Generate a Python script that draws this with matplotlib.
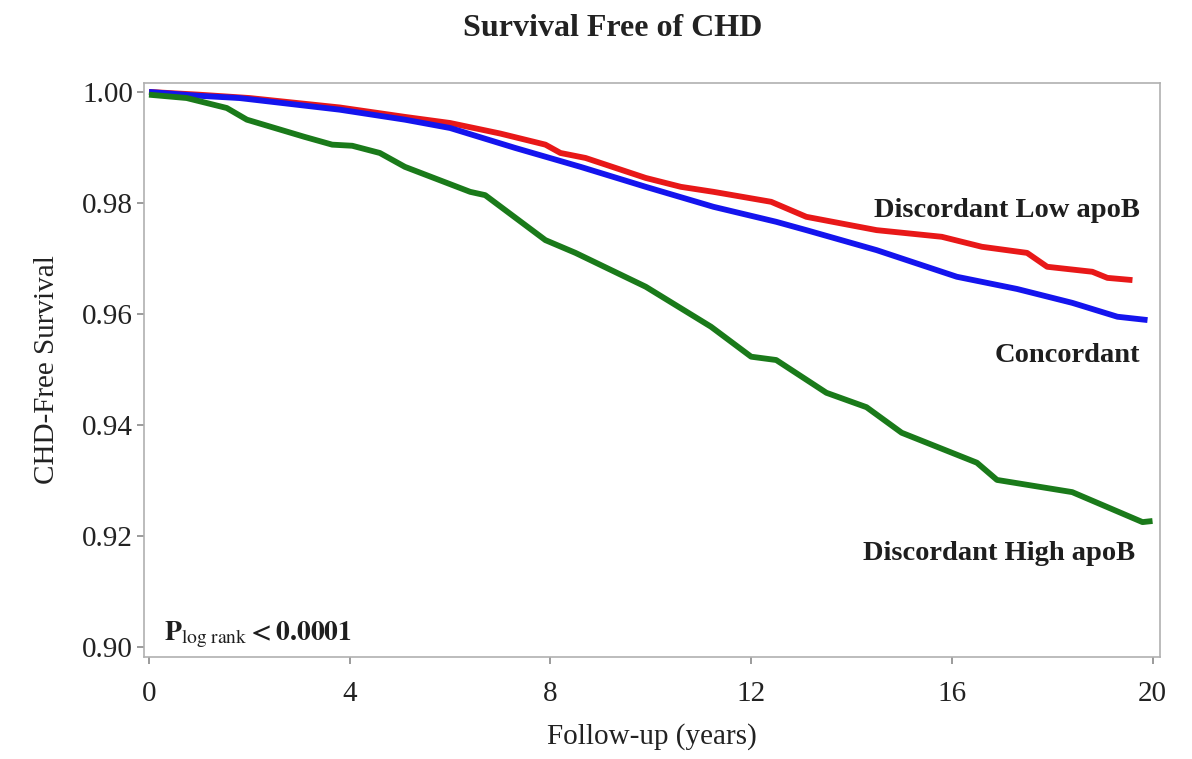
import matplotlib
matplotlib.use("Agg")
import matplotlib.pyplot as plt

plt.rcParams.update({
    "font.family": "Liberation Serif",
    "mathtext.fontset": "stix",
})

# curves (years, CHD-free survival)
low_x = [0, 1.0, 2.0, 3.8, 5.1, 6.0, 7.0, 7.9, 8.2, 8.7, 9.9, 10.6, 11.25,
         12.4, 13.1, 14.5, 15.8, 16.6, 17.5, 17.9, 18.8, 19.1, 19.6]
low_y = [1.000, 0.9995, 0.9989, 0.9972, 0.9955, 0.9944, 0.9925, 0.9905, 0.9890,
         0.9881, 0.9845, 0.9829, 0.9820, 0.9802, 0.9775, 0.9751, 0.9739, 0.9721,
         0.9710, 0.9685, 0.9676, 0.9665, 0.9661]

conc_x = [0, 1.0, 1.8, 3.8, 5.1, 6.0, 7.3, 8.6, 9.9, 11.25, 12.5, 13.1, 14.5,
          16.1, 17.3, 18.4, 19.3, 19.9]
conc_y = [1.000, 0.9993, 0.9989, 0.9968, 0.9950, 0.9935, 0.9899, 0.9865, 0.9829,
          0.9793, 0.9766, 0.9751, 0.9715, 0.9667, 0.9645, 0.9620, 0.9595, 0.9589]

high_x = [0, 0.75, 1.55, 1.95, 3.1, 3.65, 4.05, 4.6, 5.1, 6.4, 6.7, 7.9, 8.5,
          9.9, 11.2, 12.0, 12.5, 13.5, 14.3, 15.0, 16.5, 16.9, 18.4, 19.8, 20.0]
high_y = [0.9995, 0.9989, 0.9971, 0.9950, 0.9919, 0.9905, 0.9903, 0.9890, 0.9865,
          0.9820, 0.9814, 0.9733, 0.9710, 0.9649, 0.9577, 0.9523, 0.9517, 0.9458,
          0.9432, 0.9386, 0.9332, 0.9301, 0.9279, 0.9225, 0.9227]

x_ticks = [0, 4, 8, 12, 16, 20]
y_ticks = [0.90, 0.92, 0.94, 0.96, 0.98, 1.00]

fig = plt.figure(figsize=(11.92, 7.59), dpi=100)
ax = fig.add_axes([0.1208, 0.1344, 0.8524, 0.7562])

ax.plot(low_x, low_y, color="#e81818", lw=4.2, solid_capstyle="butt")
ax.plot(conc_x, conc_y, color="#1414ee", lw=4.2, solid_capstyle="butt")
ax.plot(high_x, high_y, color="#1a7a1a", lw=4.2, solid_capstyle="butt")

ax.set_xlim(-0.1, 20.15)
ax.set_ylim(0.8982, 1.0016)
ax.set_xticks(x_ticks)
ax.set_yticks(y_ticks)
ax.set_yticklabels([f"{v:.2f}" for v in y_ticks])
ax.tick_params(labelsize=21, color="#8a8a8a", length=5, width=1.2, labelcolor="#222222")
ax.tick_params(axis="x", pad=12)
ax.tick_params(axis="y", pad=3)
for s in ax.spines.values():
    s.set_color("#b0b0b0")
    s.set_linewidth(1.2)

ax.set_xlabel("Follow-up (years)", fontsize=21, color="#222222", labelpad=12)
ax.set_ylabel("CHD-Free Survival", fontsize=21, color="#222222", labelpad=16)
fig.text(0.514, 0.963, "Survival Free of CHD", fontsize=23, fontweight="bold",
         ha="center", va="center", color="#222222")

lab = dict(fontsize=20.5, fontweight="bold", ha="right", va="center", color="#1e1e1e")
ax.text(19.75, 0.9786, "Discordant Low apoB", **lab)
ax.text(19.75, 0.9525, "Concordant", **lab)
ax.text(19.65, 0.9168, "Discordant High apoB", **lab)

ax.text(0.3, 0.9022, r"$\mathbf{P}_{\mathrm{log\ rank}}\mathbf{<0.0001}$",
        fontsize=20, ha="left", va="center", color="#1e1e1e")

fig.savefig("out.png", dpi=100)
